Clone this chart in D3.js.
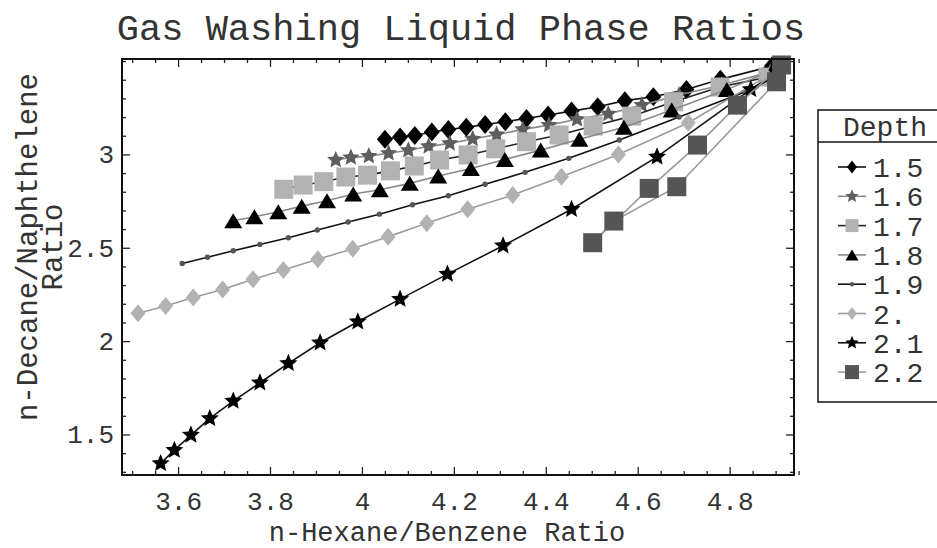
<!DOCTYPE html>
<html><head><meta charset="utf-8">
<script src="https://cdn.jsdelivr.net/npm/d3@7"></script>
<style>
body{margin:0;background:#fff;}
svg text{font-family:"Courier New",Courier,"Nimbus Mono PS","Liberation Mono",monospace;fill:#333;}
</style></head><body>
<svg id="chart" width="937" height="548"></svg>
<script>
// Depth levels (legend labels)
const depths = ["1.5","1.6","1.7","1.8","1.9","2.","2.1","2.2"];

// n-Hexane/Benzene ratio (x) and n-Decane/Naphthelene ratio (y) per depth
const hexBenz15 = [4.050,4.083,4.115,4.152,4.188,4.227,4.268,4.312,4.358,4.405,4.456,4.513,4.572,4.634,4.706,4.780,4.892];
const decNaph15 = [3.081,3.093,3.101,3.120,3.133,3.145,3.160,3.175,3.193,3.211,3.232,3.255,3.288,3.309,3.348,3.402,3.473];

const hexBenz16 = [3.943,3.976,4.015,4.058,4.101,4.145,4.191,4.241,4.293,4.350,4.407,4.468,4.536,4.609,4.690,4.783,4.888];
const decNaph16 = [2.970,2.983,2.991,3.006,3.022,3.043,3.059,3.083,3.106,3.134,3.157,3.188,3.217,3.264,3.318,3.372,3.441];

const hexBenz17 = [3.830,3.872,3.917,3.965,4.012,4.062,4.114,4.169,4.231,4.291,4.358,4.429,4.503,4.587,4.678,4.779,4.883];
const decNaph17 = [2.813,2.836,2.854,2.879,2.889,2.912,2.938,2.970,2.997,3.030,3.068,3.104,3.152,3.205,3.282,3.361,3.414];

const hexBenz18 = [3.720,3.766,3.818,3.869,3.924,3.981,4.039,4.104,4.166,4.237,4.311,4.389,4.473,4.570,4.674,4.794,4.894];
const decNaph18 = [2.645,2.666,2.693,2.723,2.752,2.788,2.811,2.845,2.884,2.925,2.973,3.023,3.081,3.146,3.238,3.347,3.452];

const hexBenz19 = [3.609,3.664,3.720,3.778,3.840,3.903,3.970,4.038,4.110,4.188,4.268,4.355,4.450,4.560,4.690,4.833,4.896];
const decNaph19 = [2.416,2.449,2.484,2.518,2.554,2.595,2.638,2.680,2.730,2.779,2.840,2.904,2.979,3.077,3.200,3.334,3.420];

const hexBenz20 = [3.513,3.573,3.633,3.697,3.763,3.829,3.904,3.980,4.057,4.141,4.230,4.328,4.434,4.558,4.710,4.880];
const decNaph20 = [2.149,2.188,2.234,2.277,2.331,2.381,2.438,2.495,2.559,2.631,2.706,2.782,2.880,3.000,3.170,3.416];

const hexBenz21 = [3.562,3.592,3.628,3.669,3.720,3.778,3.840,3.909,3.991,4.083,4.186,4.307,4.456,4.642,4.846,4.901];
const decNaph21 = [1.345,1.416,1.497,1.586,1.679,1.777,1.881,1.991,2.104,2.225,2.359,2.511,2.706,2.987,3.348,3.420];

const hexBenz22 = [4.913,4.817,4.730,4.625,4.502,4.548,4.685,4.902];
const decNaph22 = [3.479,3.264,3.050,2.818,2.527,2.643,2.827,3.389];

// Tick values
const xMajorTicks = [3.6,3.8,4.0,4.2,4.4,4.6,4.8];
const xTickLabels = ["3.6","3.8","4","4.2","4.4","4.6","4.8"];
const yMajorTicks = [1.5,2.0,2.5,3.0];
const yTickLabels = ["1.5","2","2.5","3"];

const svg = d3.select("#chart");
const L = 122, R = 794, T = 59, B = 475;
const x = d3.scaleLinear().domain([3.478, 4.940]).range([L, R]);
const y = d3.scaleLinear().domain([1.283, 3.511]).range([B, T]);

const xMinor = d3.range(3.5, 4.95, 0.05).map(v => +v.toFixed(2)).filter(v => !xMajorTicks.some(m => Math.abs(m - v) < 1e-6));
const yMinor = d3.range(1.3, 3.51, 0.1).map(v => +v.toFixed(2)).filter(v => !yMajorTicks.some(m => Math.abs(m - v) < 1e-6));

function styleAxis(g) {
  g.select(".domain").remove();
  g.selectAll("line").attr("stroke", "#222").attr("stroke-width", 1.3);
  g.selectAll("text").attr("font-size", 26).attr("fill", "#333");
}

// Bottom axis with labels
svg.append("g").attr("transform", `translate(0,${B})`)
  .call(d3.axisBottom(x).tickValues(xMajorTicks).tickSize(-8).tickPadding(17)
    .tickFormat((d, i) => xTickLabels[i]))
  .call(styleAxis);
svg.append("g").attr("transform", `translate(0,${B})`)
  .call(d3.axisBottom(x).tickValues(xMinor).tickSize(-4).tickFormat(""))
  .call(styleAxis);
// Top axis ticks
svg.append("g").attr("transform", `translate(0,${T})`)
  .call(d3.axisTop(x).tickValues(xMajorTicks).tickSize(-8).tickFormat(""))
  .call(styleAxis);
svg.append("g").attr("transform", `translate(0,${T})`)
  .call(d3.axisTop(x).tickValues(xMinor).tickSize(-4).tickFormat(""))
  .call(styleAxis);
// Left axis with labels
svg.append("g").attr("transform", `translate(${L},0)`)
  .call(d3.axisLeft(y).tickValues(yMajorTicks).tickSize(-8).tickPadding(8)
    .tickFormat((d, i) => yTickLabels[i]))
  .call(styleAxis);
svg.append("g").attr("transform", `translate(${L},0)`)
  .call(d3.axisLeft(y).tickValues(yMinor).tickSize(-4).tickFormat(""))
  .call(styleAxis);
// Right axis ticks
svg.append("g").attr("transform", `translate(${R},0)`)
  .call(d3.axisRight(y).tickValues(yMajorTicks).tickSize(-8).tickFormat(""))
  .call(styleAxis);
svg.append("g").attr("transform", `translate(${R},0)`)
  .call(d3.axisRight(y).tickValues(yMinor).tickSize(-4).tickFormat(""))
  .call(styleAxis);

// Marker shapes (path strings centred on 0,0)
const shapes = {
  diamond: (w, h) => `M0,${-h/2}L${w/2},0L0,${h/2}L${-w/2},0Z`,
  square: (s) => `M${-s/2},${-s/2}h${s}v${s}h${-s}Z`,
  triangle: (w, h) => `M0,${-h/2}L${w/2},${h/2}L${-w/2},${h/2}Z`,
  circle: (r) => `M${r},0A${r},${r} 0 1,1 ${-r},0A${r},${r} 0 1,1 ${r},0Z`,
  star: (ro, ri) => {
    let p = "";
    for (let k = 0; k < 10; k++) {
      const r = k % 2 ? ri : ro, a = -Math.PI / 2 + k * Math.PI / 5;
      p += (k ? "L" : "M") + (r * Math.cos(a)).toFixed(2) + "," + (r * Math.sin(a)).toFixed(2);
    }
    return p + "Z";
  }
};

const series = [
  {xs: hexBenz15, ys: decNaph15, line: "#111", fill: "#000", mk: () => shapes.diamond(16, 19), lg: () => shapes.diamond(10, 13)},
  {xs: hexBenz16, ys: decNaph16, line: "#8a8a8a", fill: "#5e5e5e", mk: () => shapes.star(9, 4.2), lg: () => shapes.star(7, 3.2)},
  {xs: hexBenz17, ys: decNaph17, line: "#222", fill: "#b2b2b2", mk: () => shapes.square(19), lg: () => shapes.square(13)},
  {xs: hexBenz18, ys: decNaph18, line: "#8a8a8a", fill: "#000", mk: () => shapes.triangle(18, 15), lg: () => shapes.triangle(13, 11)},
  {xs: hexBenz19, ys: decNaph19, line: "#111", fill: "#555", mk: () => shapes.circle(2.7), lg: () => shapes.circle(2.2)},
  {xs: hexBenz20, ys: decNaph20, line: "#9a9a9a", fill: "#b2b2b2", mk: () => shapes.diamond(15, 18), lg: () => shapes.diamond(10, 13)},
  {xs: hexBenz21, ys: decNaph21, line: "#111", fill: "#000", mk: () => shapes.star(9.5, 4.3), lg: () => shapes.star(7, 3.2)},
  {xs: hexBenz22, ys: decNaph22, line: "#9a9a9a", fill: "#555", mk: () => shapes.square(19), lg: () => shapes.square(14)}
];

const lineGen = d3.line().x(d => x(d[0])).y(d => y(d[1]));
const plot = svg.append("g");
series.forEach(s => {
  const pts = s.xs.map((v, i) => [v, s.ys[i]]);
  const g = plot.append("g");
  g.append("path").attr("d", lineGen(pts)).attr("fill", "none")
    .attr("stroke", s.line).attr("stroke-width", 1.6);
  g.selectAll("path.mk").data(pts).join("path").attr("class", "mk")
    .attr("transform", d => `translate(${x(d[0])},${y(d[1])})`)
    .attr("d", s.mk()).attr("fill", s.fill);
});

// Frame
svg.append("rect").attr("x", L).attr("y", T).attr("width", R - L).attr("height", B - T)
  .attr("fill", "none").attr("stroke", "#111").attr("stroke-width", 2);

// Title and axis titles
svg.append("text").attr("x", 461).attr("y", 40).attr("text-anchor", "middle")
  .attr("font-size", 37).text("Gas Washing Liquid Phase Ratios");
svg.append("text").attr("x", 447).attr("y", 541).attr("text-anchor", "middle")
  .attr("font-size", 27).text("n-Hexane/Benzene Ratio");
const yt = svg.append("text").attr("transform", "translate(37,247) rotate(-90)")
  .attr("text-anchor", "middle").attr("font-size", 29);
yt.append("tspan").attr("x", 0).attr("y", 0).text("n-Decane/Naphthelene");
yt.append("tspan").attr("x", 0).attr("y", 25).text("Ratio");

// Legend
const lg = svg.append("g");
lg.append("rect").attr("x", 818).attr("y", 110).attr("width", 140).attr("height", 292)
  .attr("fill", "#fff").attr("stroke", "#111").attr("stroke-width", 1.5);
lg.append("line").attr("x1", 818).attr("x2", 940).attr("y1", 142).attr("y2", 142)
  .attr("stroke", "#111").attr("stroke-width", 1.5);
lg.append("text").attr("x", 885).attr("y", 136).attr("text-anchor", "middle")
  .attr("font-size", 28).text("Depth");
series.forEach((s, i) => {
  const cy = 167 + i * 29.3;
  lg.append("line").attr("x1", 838).attr("x2", 866).attr("y1", cy).attr("y2", cy)
    .attr("stroke", s.line).attr("stroke-width", 1.6);
  lg.append("path").attr("transform", `translate(852,${cy})`).attr("d", s.lg()).attr("fill", s.fill);
  lg.append("text").attr("x", 873).attr("y", cy + 10).attr("font-size", 28).text(depths[i]);
});
</script>
</body></html>
